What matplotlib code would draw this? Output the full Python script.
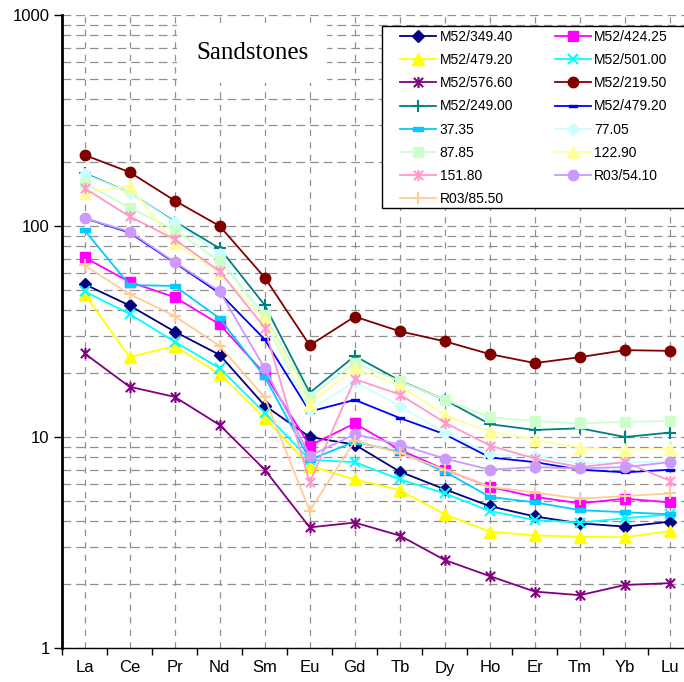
import matplotlib
matplotlib.use("Agg")
import matplotlib.pyplot as plt
from matplotlib.path import Path
from matplotlib.patches import Rectangle
from matplotlib.ticker import LogLocator, NullFormatter, FixedLocator
import numpy as np

elements = ["La", "Ce", "Pr", "Nd", "Sm", "Eu", "Gd", "Tb", "Dy", "Ho", "Er", "Tm", "Yb", "Lu"]

names = ["M52/349.40", "M52/424.25", "M52/479.20", "M52/501.00", "M52/576.60",
         "M52/219.50", "M52/249.00", "M52/479.20", "37.35", "77.05", "87.85",
         "122.90", "151.80", "R03/54.10", "R03/85.50"]

m52_349_40 = [53, 42, 31.6, 24.5, 14.1, 10.0, 9.2, 6.85, 5.65, 4.7, 4.2, 3.9, 3.76, 3.97]
m52_424_25 = [71, 54.3, 46, 34.2, 19.9, 9.1, 11.6, 8.7, 7.0, 5.8, 5.2, 4.85, 5.1, 4.9]
m52_479_20a = [47.6, 23.9, 27, 19.9, 12.3, 7.3, 6.3, 5.6, 4.3, 3.56, 3.42, 3.37, 3.35, 3.59]
m52_501_00 = [49, 38.3, 28.3, 21.2, 13.0, 7.8, 7.6, 6.3, 5.4, 4.46, 4.04, 3.93, 4.12, 4.3]
m52_576_60 = [24.9, 17.3, 15.5, 11.4, 7.0, 3.73, 3.93, 3.41, 2.61, 2.19, 1.85, 1.78, 1.99, 2.03]
m52_219_50 = [217, 180, 132, 100, 57, 27.2, 37.2, 31.7, 28.4, 24.7, 22.4, 23.9, 25.8, 25.6]
m52_249_00 = [178, 144, 105, 78.4, 42.2, 16.2, 24.2, 18.5, 15.0, 11.5, 10.8, 11.0, 10.0, 10.5]
m52_479_20b = [109, 93, 67, 48, 29, 13.2, 15.0, 12.3, 10.3, 8.0, 7.6, 7.0, 6.8, 7.0]
s_37_35 = [95.5, 52.5, 52, 36.5, 19.3, 7.8, 9.5, 8.5, 6.85, 5.2, 4.9, 4.5, 4.4, 4.3]
s_77_05 = [176, 144, 104, 74, 35, 13.4, 18.3, 14.0, 10.5, 8.3, 8.1, 7.5, 7.6, 7.6]
s_87_85 = [160, 122, 96, 68, 38, 15.5, 22.4, 18.4, 15.0, 12.4, 11.9, 11.6, 11.8, 11.9]
s_122_90 = [143, 155, 83, 60, 36, 14.4, 21.2, 17.5, 12.7, 10.6, 9.7, 8.9, 8.7, 8.8]
s_151_80 = [151, 111, 86.5, 61, 33, 6.1, 18.8, 15.9, 11.7, 9.1, 7.9, 7.2, 7.6, 6.2]
r03_54_10 = [109, 94, 67.5, 49, 21.2, 8.15, 10.3, 9.2, 7.9, 7.0, 7.2, 7.1, 7.2, 7.6]
r03_85_50 = [65, 47.6, 37.4, 27, 15.4, 4.46, 9.6, 8.4, 7.0, 5.8, 5.45, 5.1, 5.25, 5.4]

series = [m52_349_40, m52_424_25, m52_479_20a, m52_501_00, m52_576_60, m52_219_50,
          m52_249_00, m52_479_20b, s_37_35, s_77_05, s_87_85, s_122_90, s_151_80,
          r03_54_10, r03_85_50]

colors = ["#000080", "#FF00FF", "#FFFF00", "#00FFFF", "#800080", "#800000",
          "#008080", "#0000FF", "#00CCFF", "#CCFFFF", "#CCFFCC", "#FFFF99",
          "#FF99CC", "#CC99FF", "#FFCC99"]

star = Path([(-1, -1), (1, 1), (-1, 1), (1, -1), (0, -1.2), (0, 1.2)],
            [Path.MOVETO, Path.LINETO, Path.MOVETO, Path.LINETO, Path.MOVETO, Path.LINETO])
dash = Path([(-1, -0.35), (1, -0.35), (1, 0.35), (-1, 0.35), (-1, -0.35)],
            [Path.MOVETO, Path.LINETO, Path.LINETO, Path.LINETO, Path.CLOSEPOLY])

markers = ["D", "s", "^", "x", star, "o", "+", dash, dash, "D", "s", "^", star, "o", "+"]
msizes = [6.5, 7.5, 8, 7, 8, 7.5, 8, 6, 7, 6.5, 7.5, 8, 8, 7.5, 8]

plt.rcParams["font.family"] = ["Liberation Sans", "DejaVu Sans"]

fig = plt.figure(figsize=(6.84, 6.82), dpi=100)
ax = fig.add_axes([62 / 684, 34 / 682, 630.6 / 684, 633 / 682])

x = np.arange(len(elements))
handles = []
for vals, name, c, m, ms in zip(series, names, colors, markers, msizes):
    filled = m not in ("x", "+") and m is not star
    h, = ax.plot(x, vals, color=c, lw=1.3, marker=m, markersize=ms,
                 markerfacecolor=c if filled else "none", markeredgecolor=c,
                 markeredgewidth=1.5 if not filled else 1.0, label=name, clip_on=True)
    handles.append(h)

ax.set_yscale("log")
ax.set_ylim(1, 1000)
ax.set_xlim(-0.5, 13.5)

ax.set_xticks(x)
ax.set_xticklabels(elements, fontsize=12)
ax.xaxis.set_minor_locator(FixedLocator(np.arange(-0.5, 14, 1.0)))
ax.tick_params(axis="x", which="major", length=0, pad=9)
ax.tick_params(axis="x", which="minor", length=5, width=1, direction="out", color="black")

ax.yaxis.set_major_locator(FixedLocator([1, 10, 100, 1000]))
ax.set_yticklabels(["1", "10", "100", "1000"], fontsize=12)
ax.yaxis.set_minor_locator(LogLocator(base=10, subs=np.arange(2, 10)))
ax.yaxis.set_minor_formatter(NullFormatter())
ax.tick_params(axis="y", which="major", length=6, width=1, direction="out", pad=3)
ax.tick_params(axis="y", which="minor", length=0)

ax.set_axisbelow(True)
ax.grid(True, axis="x", which="major", color="#909090", ls=(0, (5, 5)), lw=0.9)
ax.grid(True, axis="y", which="both", color="#909090", ls=(0, (7, 4)), lw=0.9)

for s in ("top", "right"):
    ax.spines[s].set_visible(False)
ax.spines["left"].set_linewidth(2)
ax.spines["bottom"].set_linewidth(1)

# Title with white background
fig.text(252 / 684, 1 - 53 / 682, "Sandstones", fontsize=18, family="Liberation Serif",
         ha="center", va="center",
         bbox=dict(facecolor="white", edgecolor="none", boxstyle="square,pad=0.75"))

# Legend frame
rect = Rectangle((382 / 684, 1 - 208 / 682), 310 / 684, 182 / 682, transform=fig.transFigure,
                 facecolor="white", edgecolor="black", lw=1, zorder=2)
fig.patches.append(rect)

order = list(range(0, 15, 2)) + list(range(1, 15, 2))
leg = fig.legend([handles[i] for i in order], [names[i] for i in order], ncol=2,
                 loc="upper left", bbox_to_anchor=(400 / 684, 1 - 30 / 682),
                 frameon=False, fontsize=10, handlelength=2.6, handletextpad=0.25,
                 columnspacing=3.0, labelspacing=0.66, borderpad=0.0, borderaxespad=0)
leg.set_zorder(5)

fig.savefig("out.png", dpi=100)
